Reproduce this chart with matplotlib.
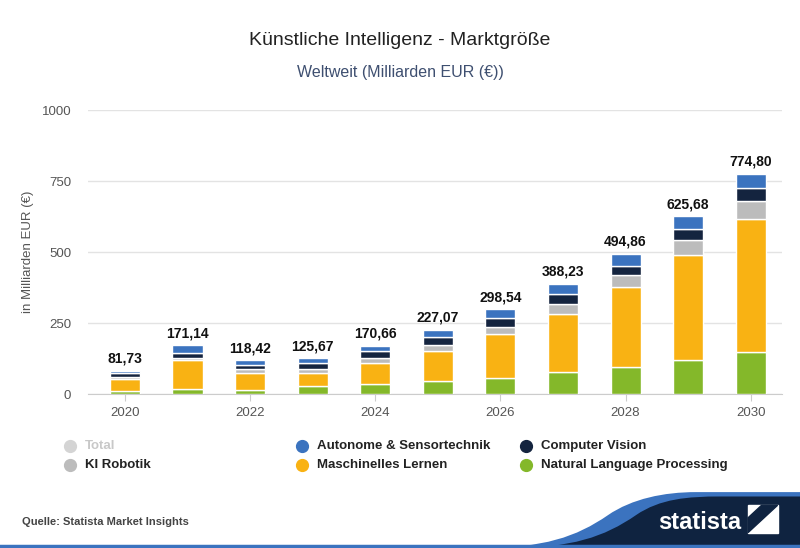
import numpy as np
import matplotlib.pyplot as plt
from matplotlib.patches import Polygon, PathPatch
from matplotlib.path import Path
from matplotlib.lines import Line2D

plt.rcParams['font.family'] = ['Liberation Sans', 'DejaVu Sans']

years = np.arange(2020, 2031)
nlp = [12, 17, 15, 27, 34, 47, 57, 77, 96, 120, 147]
ml = [42, 103, 60, 48, 76, 104, 153, 206, 280, 369, 471]
robotik = [7, 6, 14, 14, 16, 21, 27, 35, 43, 53, 62]
vision = [12, 20, 14, 22, 25, 28, 32, 34, 32, 38, 45]
autonom = [8.73, 25.14, 15.42, 14.67, 19.66, 27.07, 29.54, 36.23, 43.86, 45.68, 49.80]
totals = ['81,73', '171,14', '118,42', '125,67', '170,66', '227,07',
          '298,54', '388,23', '494,86', '625,68', '774,80']

series = [
    ('Natural Language Processing', nlp, '#84b82a'),
    ('Maschinelles Lernen', ml, '#f9b213'),
    ('KI Robotik', robotik, '#bcbcbc'),
    ('Computer Vision', vision, '#14243f'),
    ('Autonome & Sensortechnik', autonom, '#3b73bf'),
]

fig = plt.figure(figsize=(8, 5.48), dpi=100)
ax = fig.add_axes([0.11, 0.281, 0.8675, 0.518])

bottom = np.zeros(len(years))
for name, vals, col in series:
    ax.bar(years, vals, width=0.48, bottom=bottom, color=col,
           edgecolor='white', linewidth=1.0, zorder=3)
    bottom += np.array(vals)

for x, top, lab in zip(years, bottom, totals):
    ax.text(x, top + 18, lab, ha='center', va='bottom', fontsize=10,
            fontweight='bold', color='#111111')

ax.set_xlim(2019.41, 2030.5)
ax.set_ylim(0, 1000)
ax.set_yticks([0, 250, 500, 750, 1000])
ax.set_xticks([2020, 2022, 2024, 2026, 2028, 2030])
ax.tick_params(axis='y', length=0, labelsize=9.5, colors='#555555', pad=12)
ax.tick_params(axis='x', length=5, color='#cccccc', labelsize=9.5,
               colors='#555555', pad=4)
ax.grid(axis='y', color='#e3e3e3', linewidth=1, zorder=0)
for s in ['top', 'right', 'left']:
    ax.spines[s].set_visible(False)
ax.spines['bottom'].set_color('#cccccc')
ax.set_ylabel('in Milliarden EUR (€)', fontsize=9.5, color='#555555')
ax.yaxis.set_label_coords(-0.078, 0.5)

fig.text(0.5, 0.927, 'Künstliche Intelligenz - Marktgröße', ha='center',
         va='center', fontsize=14, color='#222222')
fig.text(0.5, 0.867, 'Weltweit (Milliarden EUR (€))', ha='center',
         va='center', fontsize=11.5, color='#3e4f70')

# legend
legend_items = [
    (0.088, 0.186, 'Total', '#d4d4d4', '#c8c8c8'),
    (0.088, 0.151, 'KI Robotik', '#bcbcbc', '#222222'),
    (0.378, 0.186, 'Autonome & Sensortechnik', '#3b73bf', '#222222'),
    (0.378, 0.151, 'Maschinelles Lernen', '#f9b213', '#222222'),
    (0.658, 0.186, 'Computer Vision', '#14243f', '#222222'),
    (0.658, 0.151, 'Natural Language Processing', '#84b82a', '#222222'),
]
for x, y, lab, col, tcol in legend_items:
    fig.add_artist(Line2D([x], [y], marker='o', markersize=8.5, color=col,
                          transform=fig.transFigure))
    fig.text(x + 0.018, y, lab, va='center', ha='left', fontsize=9.5,
             fontweight='bold', color=tcol)

# footer
fig.text(0.028, 0.048, 'Quelle: Statista Market Insights', fontsize=8,
         fontweight='bold', color='#444444', va='center')


def swoosh(x0, x1, top, color):
    verts = [(x0, 0.0), (x0 + 0.08, 0.0), (x0 + 0.12, 0.02),
             (x0 + 0.16, 0.06), (x0 + 0.19, 0.09), (x1 - 0.04, top),
             (x1, top), (1.0, top), (1.0, 0.0), (x0, 0.0)]
    codes = [Path.MOVETO, Path.CURVE4, Path.CURVE4, Path.CURVE4,
             Path.CURVE4, Path.CURVE4, Path.CURVE4, Path.LINETO,
             Path.LINETO, Path.CLOSEPOLY]
    fig.add_artist(PathPatch(Path(verts, codes), transform=fig.transFigure,
                             color=color, linewidth=0))


swoosh(0.60, 0.87, 0.102, '#3b73bf')
swoosh(0.635, 0.90, 0.094, '#0f2340')
fig.add_artist(Line2D([0, 1], [0.004, 0.004], color='#3b73bf', linewidth=2.5,
                      transform=fig.transFigure))
fig.text(0.926, 0.046, 'statista', fontsize=17, fontweight='bold',
         color='white', ha='right', va='center')
fig.add_artist(Polygon([(0.935, 0.028), (0.972, 0.028), (0.972, 0.078), (0.935, 0.078)],
                       closed=True, transform=fig.transFigure, color='white'))
fig.add_artist(Polygon([(0.935, 0.028), (0.972, 0.078), (0.952, 0.078), (0.935, 0.055)],
                       closed=True, transform=fig.transFigure, color='#0f2340'))

fig.savefig('out.png', dpi=100)
